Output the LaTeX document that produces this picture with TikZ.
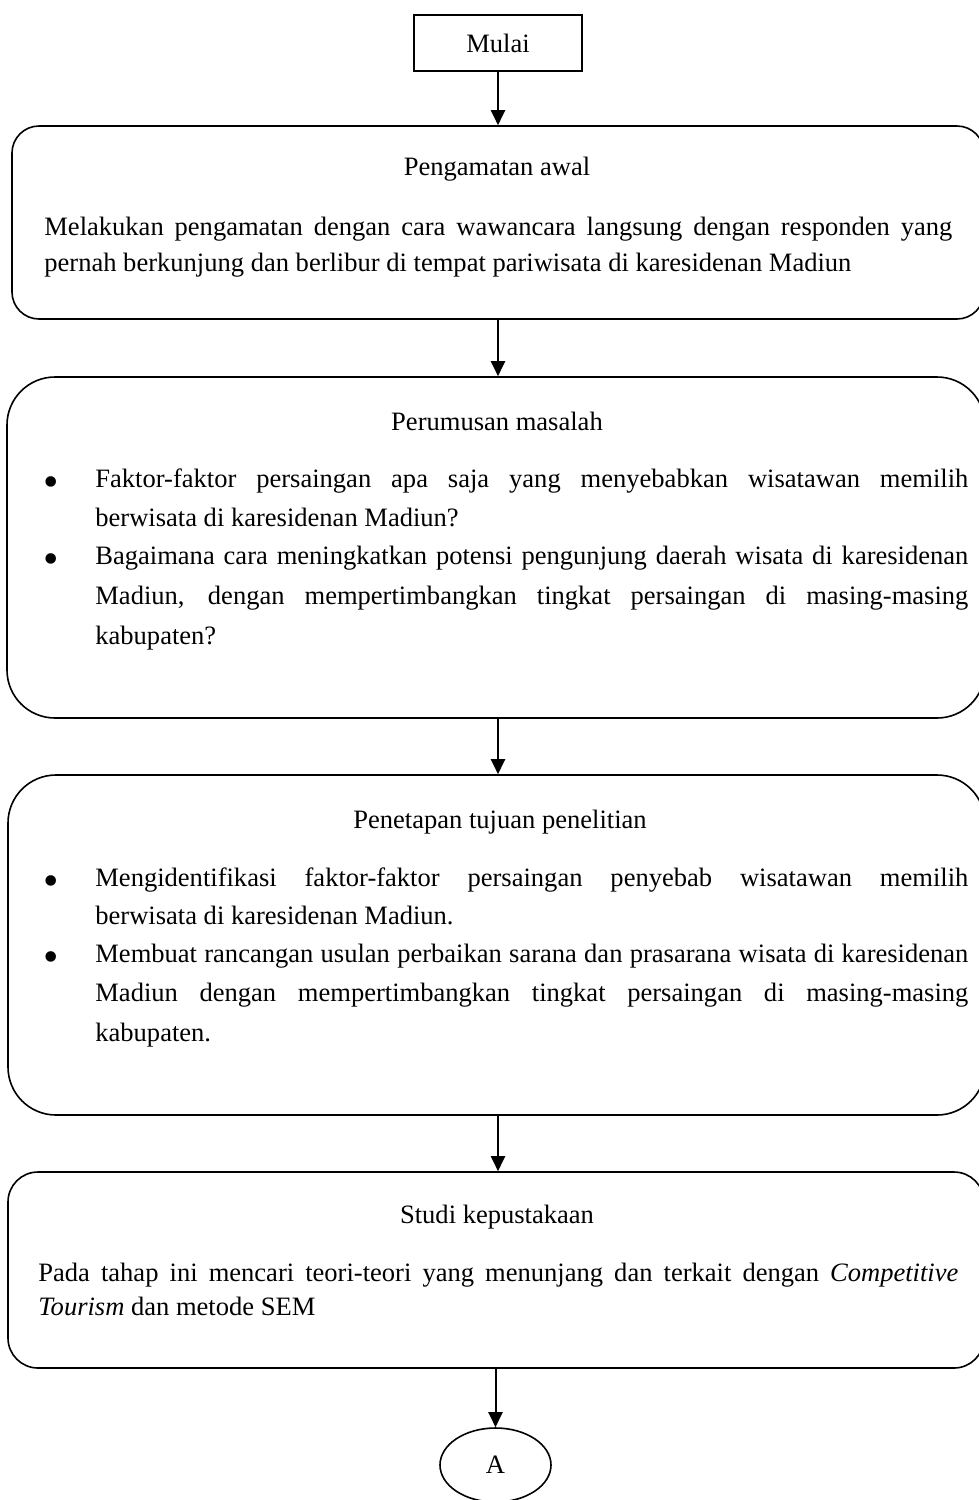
\documentclass[tikz,border=0pt]{standalone}
\usepackage{fontspec}
\setmainfont{Liberation Serif}
\usetikzlibrary{shapes.geometric,arrows.meta}
\newsavebox\measbox
\AtBeginDocument{%
  \sbox\measbox{\rmfamily\fontsize{10pt}{12pt}\selectfont pernah berkunjung dan berlibur di tempat pariwisata di karesidenan Madiun}%
  \pgfmathsetmacro\fsz{10*403.5/\the\wd\measbox}%
  \global\let\fsz\fsz}
\newcommand\bfnt{\fontsize{\fsz pt}{\fsz pt}\selectfont}
\begin{document}
\begin{tikzpicture}[x=0.5pt,y=-0.5pt,
  box/.style={draw,line width=0.8pt,rectangle,inner sep=0pt},
  arr/.style={line width=1pt,-{Triangle[length=7.5pt,width=7pt]}},
  ttl/.style={anchor=base,inner sep=0pt,font=\bfnt},
  ln/.style={anchor=base west,inner sep=0pt,font=\bfnt},
  bul/.style={anchor=base,inner sep=0pt,font={\fontsize{22pt}{22pt}\selectfont}},
]
\useasboundingbox (0,0) rectangle (979,1500);
\clip (0,0) rectangle (979,1500);
\fill[white] (0,0) rectangle (979,1500);

% Start
\node[box,minimum width=84pt,minimum height=28pt,font=\bfnt] (mulai) at (498,43) {Mulai};

% Box 1
\node[box,rounded corners=13.5pt,minimum width=486pt,minimum height=96.5pt] (b1) at (498,222.5) {};
\node[ttl] (t1) at (497,175) {Pengamatan awal};
\node[ln] (l1a) at (44,235) {\makebox[454pt][s]{Melakukan pengamatan dengan cara wawancara langsung dengan responden yang}};
\node[ln] (l1b) at (44,271) {pernah berkunjung dan berlibur di tempat pariwisata di karesidenan Madiun};

% Box 2
\node[box,rounded corners=24pt,minimum width=489pt,minimum height=170.5pt] (b2) at (496,547.5) {};
\node[ttl] (t2) at (497,430) {Perumusan masalah};
\node[bul] (u2a) at (51,496) {\textbullet};
\node[ln] (l2a) at (95,487) {\makebox[436.5pt][s]{Faktor-faktor persaingan apa saja yang menyebabkan wisatawan memilih}};
\node[ln] (l2b) at (95,526) {berwisata di karesidenan Madiun?};
\node[bul] (u2b) at (51,573) {\textbullet};
\node[ln] (l2c) at (95,564) {\makebox[436.5pt][s]{Bagaimana cara meningkatkan potensi pengunjung daerah wisata di karesidenan}};
\node[ln] (l2d) at (95,604) {\makebox[436.5pt][s]{Madiun, dengan mempertimbangkan tingkat persaingan di masing-masing}};
\node[ln] (l2e) at (95,644) {kabupaten?};

% Box 3
\node[box,rounded corners=24pt,minimum width=488.5pt,minimum height=170pt] (b3) at (496.5,945) {};
\node[ttl] (t3) at (500,828) {Penetapan tujuan penelitian};
\node[bul] (u3a) at (51,895) {\textbullet};
\node[ln] (l3a) at (95,886) {\makebox[436.5pt][s]{Mengidentifikasi faktor-faktor persaingan penyebab wisatawan memilih}};
\node[ln] (l3b) at (95,924) {berwisata di karesidenan Madiun.};
\node[bul] (u3b) at (51,971) {\textbullet};
\node[ln] (l3c) at (95,962) {\makebox[436.5pt][s]{Membuat rancangan usulan perbaikan sarana dan prasarana wisata di karesidenan}};
\node[ln] (l3d) at (95,1001) {\makebox[436.5pt][s]{Madiun dengan mempertimbangkan tingkat persaingan di masing-masing}};
\node[ln] (l3e) at (95,1041) {kabupaten.};

% Box 4
\node[box,rounded corners=15pt,minimum width=488pt,minimum height=98pt] (b4) at (496,1270) {};
\node[ttl] (t4) at (497,1223) {Studi kepustakaan};
\node[ln] (l4a) at (38,1281) {\makebox[460pt][s]{Pada tahap ini mencari teori-teori yang menunjang dan terkait dengan \textit{Competitive}}};
\node[ln] (l4b) at (38,1315) {\textit{Tourism} dan metode SEM};

% Connector
\node[draw,ellipse,line width=0.8pt,minimum width=55.5pt,minimum height=37pt,inner sep=0pt,font=\bfnt] (A) at (495.5,1465) {A};

% Arrows
\draw[arr] (mulai.south) -- (mulai.south |- b1.north);
\draw[arr] (b1.south -| mulai) -- (b2.north -| mulai);
\draw[arr] (b2.south -| mulai) -- (b3.north -| mulai);
\draw[arr] (b3.south -| mulai) -- (b4.north -| mulai);
\draw[arr] (b4.south -| A) -- (A.north);
\end{tikzpicture}
\end{document}
